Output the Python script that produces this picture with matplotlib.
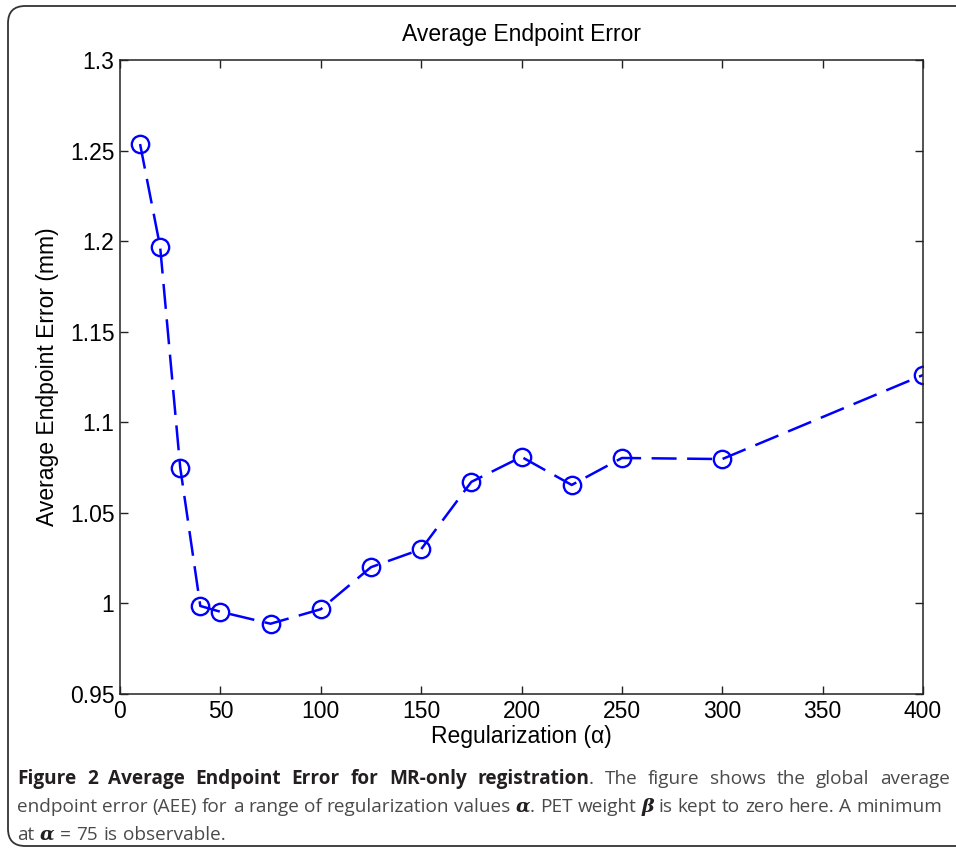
import matplotlib
matplotlib.use("Agg")
import matplotlib.pyplot as plt
from matplotlib.patches import FancyBboxPatch

# ---- data ----
alpha = [10, 20, 30, 40, 50, 75, 100, 125, 150, 175, 200, 225, 250, 300, 400]
aee = [1.2536, 1.1968, 1.0750, 0.9986, 0.9954, 0.9888, 0.9968, 1.0200, 1.0299,
       1.0671, 1.0809, 1.0654, 1.0803, 1.0797, 1.1261]
xticks = [0, 50, 100, 150, 200, 250, 300, 350, 400]
yticks = [0.95, 1.0, 1.05, 1.1, 1.15, 1.2, 1.25, 1.3]
ytick_labels = ["0.95", "1", "1.05", "1.1", "1.15", "1.2", "1.25", "1.3"]

W, H = 956, 852
fig = plt.figure(figsize=(W / 100, H / 100), dpi=100)

# rounded frame around everything
frame = FancyBboxPatch((8 / W, 6 / H), 980 / W, (846 - 6) / H,
                       boxstyle="round,pad=0,rounding_size=0.018",
                       transform=fig.transFigure, fill=False,
                       edgecolor="#333333", linewidth=1.3, mutation_aspect=W / H)
fig.patches.append(frame)

ax = fig.add_axes([120 / W, 1 - 694 / H, (923 - 120) / W, (694 - 60) / H])
ax.plot(alpha, aee, color=(0, 0, 1), linewidth=1.8, dashes=(10, 4.2),
        marker="o", markersize=12.5, markerfacecolor="none",
        markeredgecolor=(0, 0, 1), markeredgewidth=1.7)
ax.set_xlim(0, 400)
ax.set_ylim(0.95, 1.3)
ax.set_xticks(xticks)
ax.set_xticklabels([str(v) for v in xticks])
ax.set_yticks(yticks)
ax.set_yticklabels(ytick_labels)

FONT = 16.5
tfont = dict(family="Liberation Sans")
for lab in ax.get_xticklabels() + ax.get_yticklabels():
    lab.set_fontfamily("Liberation Sans")
    lab.set_fontsize(FONT)
ax.tick_params(direction="in", length=6, width=1, top=True, right=True,
               colors="#222222", labelcolor="black", pad=4)
for s in ax.spines.values():
    s.set_linewidth(1.1)
    s.set_color("#222222")

ax.set_title("Average Endpoint Error", fontsize=FONT, pad=14, **tfont)
ax.set_xlabel("Regularization (α)", fontsize=FONT, labelpad=2, **tfont)
ax.set_ylabel("Average Endpoint Error (mm)", fontsize=FONT, labelpad=8, **tfont)

# ---- caption ----
fig.canvas.draw()
r = fig.canvas.get_renderer()
FS = 13.7
BOLD = dict(family="Open Sans", weight="bold", color="#231f20")
NORM = dict(family="Open Sans", weight="normal", color="#4a4a4a")
GREEK = dict(family="DejaVu Serif", weight="bold", style="italic", color="#231f20")


def draw_line(tokens, ybase, x0, x1, justify):
    items = []
    for txt, props, sp in tokens:
        t = fig.text(0, 1 - ybase / H, txt, fontsize=FS, va="baseline", ha="left", **props)
        w = t.get_window_extent(renderer=r).width
        items.append((t, w, sp))
    total = sum(w for _, w, _ in items)
    n = sum(1 for _, _, sp in items if sp)
    if justify and n:
        gap = (x1 - x0 - total) / n
    else:
        gap = 5.5
    x = x0
    for i, (t, w, sp) in enumerate(items):
        if sp and i > 0:
            x += gap
        t.set_x(x / W)
        x += w


line1 = [(w, BOLD, True) for w in "Figure 2 Average Endpoint Error for MR-only registration".split()]
line1[0] = (line1[0][0], BOLD, False)
line1.append((".", NORM, False))
line1 += [(w, NORM, True) for w in "The figure shows the global average".split()]

line2 = [(w, NORM, True) for w in "endpoint error (AEE) for a range of regularization values".split()]
line2[0] = (line2[0][0], NORM, False)
line2 += [("α", GREEK, True), (".", NORM, False)]
line2 += [(w, NORM, True) for w in "PET weight".split()]
line2 += [("β", GREEK, True)]
line2 += [(w, NORM, True) for w in "is kept to zero here. A minimum".split()]

line3 = [("at", NORM, False), ("α", GREEK, True)]
line3 += [(w, NORM, True) for w in "= 75 is observable.".split()]

draw_line(line1, 784, 17, 950, True)
draw_line(line2, 812, 17, 942, True)
draw_line(line3, 840, 17, 950, False)

fig.savefig("out.png", dpi=100)
